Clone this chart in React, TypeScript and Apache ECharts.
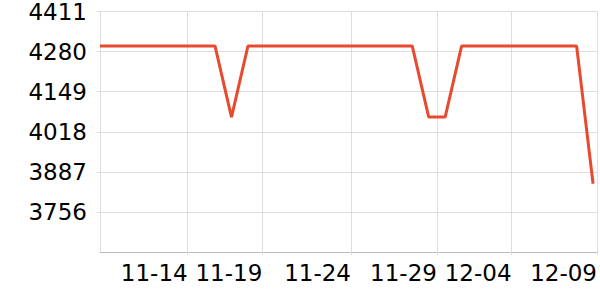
import React, { useEffect, useRef } from "react";
import * as echarts from "echarts";

// Daily observations (x) and their values (y)
const dates: string[] = [
  "2024-11-09 07:00", "2024-11-10 07:00", "2024-11-11 07:00", "2024-11-12 07:00",
  "2024-11-13 07:00", "2024-11-14 07:00", "2024-11-15 07:00", "2024-11-16 07:00",
  "2024-11-17 07:00", "2024-11-18 07:00", "2024-11-19 07:00", "2024-11-20 07:00",
  "2024-11-21 07:00", "2024-11-22 07:00", "2024-11-23 07:00", "2024-11-24 07:00",
  "2024-11-25 07:00", "2024-11-26 07:00", "2024-11-27 07:00", "2024-11-28 07:00",
  "2024-11-29 07:00", "2024-11-30 07:00", "2024-12-01 07:00", "2024-12-02 07:00",
  "2024-12-03 07:00", "2024-12-04 07:00", "2024-12-05 07:00", "2024-12-06 07:00",
  "2024-12-07 07:00", "2024-12-08 07:00", "2024-12-09 07:00",
];
const values: number[] = [
  4298, 4298, 4298, 4298, 4298, 4298, 4298, 4298,
  4066,
  4298, 4298, 4298, 4298, 4298, 4298, 4298, 4298, 4298, 4298, 4298,
  4066, 4066,
  4298, 4298, 4298, 4298, 4298, 4298, 4298, 4298,
  3848,
];

// X-axis tick instants (labelled by their date)
const xTickTimes: string[] = [
  "2024-11-14 15:00",
  "2024-11-19 04:00",
  "2024-11-24 13:30",
  "2024-11-29 19:00",
  "2024-12-04 08:00",
  "2024-12-09 12:45",
];
const xMin = "2024-11-09 07:00";
const xMax = "2024-12-09 12:45";

// Y-axis scale
const yMin = 3625;
const yMax = 4411;
const yStep = 131;

const toMs = (s: string) => new Date(s.replace(" ", "T") + ":00").getTime();

export default function App() {
  const ref = useRef<HTMLDivElement>(null);
  useEffect(() => {
    if (!ref.current) return;
    const chart = echarts.init(ref.current, undefined, { renderer: "svg" });
    const font = "DejaVu Sans";
    const ticks = xTickTimes.map(toMs);
    chart.setOption({
      animation: false,
      grid: { left: 100, right: 1, top: 10, bottom: 48 },
      xAxis: {
        type: "value",
        min: toMs(xMin),
        max: toMs(xMax),
        axisLine: { show: true, lineStyle: { color: "#bbbbbb", width: 1 } },
        axisTick: {
          show: true,
          length: 3,
          lineStyle: { color: "#dddddd" },
          customValues: ticks,
        },
        splitLine: { show: true, lineStyle: { color: "#dddddd", width: 1 } },
        axisLabel: {
          customValues: ticks,
          align: "right",
          margin: 9,
          fontSize: 23,
          fontFamily: font,
          color: "#000",
          formatter: (v: number) => echarts.time.format(v, "{MM}-{dd}", false),
        },
      },
      yAxis: {
        type: "value",
        min: yMin,
        max: yMax,
        interval: yStep,
        axisLine: { show: true, lineStyle: { color: "#dddddd", width: 1 } },
        axisTick: { show: true, length: 3, lineStyle: { color: "#dddddd" } },
        splitLine: { show: true, lineStyle: { color: "#dddddd", width: 1 } },
        axisLabel: {
          showMinLabel: false,
          margin: 13,
          fontSize: 23,
          fontFamily: font,
          color: "#000",
          formatter: (v: number) => String(v),
        },
      },
      series: [
        {
          type: "line",
          data: dates.map((d, i) => [toMs(d), values[i]]),
          showSymbol: false,
          symbol: "none",
          lineStyle: { color: "#e84a30", width: 3 },
          itemStyle: { color: "#e84a30" },
        },
      ],
    });
    return () => chart.dispose();
  }, []);
  return <div ref={ref} style={{ width: 600, height: 300, position: "absolute", left: 0, top: 0 }} />;
}
